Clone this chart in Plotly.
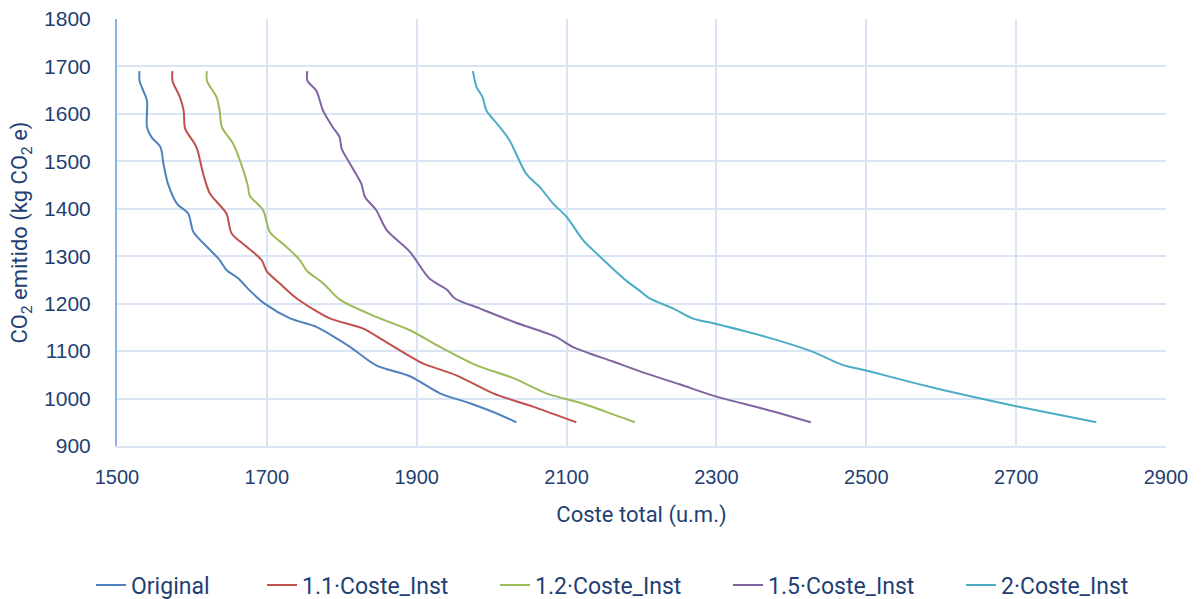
import plotly.graph_objects as go

# Total cost (u.m.) vs CO2 emitted (kg CO2 e) for each installation-cost scenario
original_cost = [1530, 1530, 1535, 1540, 1540, 1546, 1558, 1562, 1568, 1580, 1595, 1602, 1620,
                 1637, 1646, 1662, 1677, 1697, 1731, 1766, 1793, 1811, 1846, 1891, 1931, 1971,
                 2006, 2033]
original_co2 = [1690, 1670, 1649, 1628, 1572, 1551, 1530, 1495, 1453, 1411, 1390, 1351, 1320,
                1292, 1271, 1253, 1228, 1200, 1169, 1151, 1127, 1109, 1070, 1047, 1011, 990,
                969, 950]

c11_cost = [1574, 1574, 1584, 1589, 1591, 1606, 1615, 1624, 1646, 1653, 1673, 1693, 1700, 1717,
            1740, 1784, 1828, 1855, 1891, 1908, 1953, 2002, 2055, 2113]
c11_co2 = [1690, 1670, 1635, 1607, 1569, 1530, 1474, 1432, 1390, 1348, 1320, 1292, 1268, 1243,
           1211, 1169, 1148, 1123, 1089, 1074, 1049, 1011, 983, 950]

c12_cost = [1620, 1620, 1633, 1637, 1640, 1655, 1664, 1675, 1677, 1695, 1704, 1726, 1744, 1753,
            1775, 1797, 1846, 1891, 1931, 1980, 2029, 2073, 2120, 2153, 2191]
c12_co2 = [1690, 1670, 1635, 1607, 1572, 1537, 1502, 1446, 1428, 1397, 1351, 1320, 1292, 1270,
           1243, 1209, 1172, 1144, 1109, 1070, 1043, 1011, 990, 972, 950]

c15_cost = [1754, 1754, 1766, 1775, 1788, 1797, 1800, 1811, 1826, 1831, 1846, 1860, 1891, 1917,
            1940, 1951, 1984, 2029, 2086, 2108, 2162, 2206, 2251, 2300, 2366, 2426]
c15_co2 = [1690, 1670, 1649, 1607, 1572, 1551, 1526, 1495, 1453, 1425, 1397, 1355, 1309, 1253,
           1230, 1211, 1190, 1162, 1130, 1109, 1078, 1053, 1030, 1004, 977, 950]

c2_cost = [1975, 1980, 1988, 1993, 2011, 2024, 2046, 2064, 2082, 2100, 2122, 2144, 2180, 2197,
           2211, 2242, 2268, 2300, 2366, 2428, 2468, 2500, 2566, 2633, 2700, 2807]
c2_co2 = [1690, 1656, 1635, 1607, 1572, 1544, 1474, 1446, 1411, 1383, 1334, 1300, 1248, 1228,
          1211, 1190, 1169, 1157, 1130, 1099, 1071, 1059, 1032, 1007, 984, 950]

# legend entry widths (px) keep the legend items evenly spread on one row
series = [
    ("Original", original_cost, original_co2, "#4F81BD", 126),
    ("1.1·Coste_Inst", c11_cost, c11_co2, "#C0504D", 188),
    ("1.2·Coste_Inst", c12_cost, c12_co2, "#9BBB59", 188),
    ("1.5·Coste_Inst", c15_cost, c15_co2, "#8064A2", 188),
    ("2·Coste_Inst", c2_cost, c2_co2, "#4BACC6", 126),
]

TEXT = "#1F3F73"
GRID = "#D9E4F4"
LABEL_FONT = "Roboto"
TICK_FONT = "Liberation Sans"

fig = go.Figure()
for name, xs, ys, color, entry_w in series:
    fig.add_trace(go.Scatter(
        x=xs, y=ys, name=name, mode="lines", legendwidth=entry_w,
        line=dict(color=color, width=2, shape="spline", smoothing=0.8),
    ))

fig.update_layout(
    width=1201, height=599,
    margin=dict(l=117, r=35, t=19, b=153),
    paper_bgcolor="white", plot_bgcolor="white",
    font=dict(family=TICK_FONT, color=TEXT),
    showlegend=True,
    legend=dict(
        orientation="h", xref="container", x=91 / 1201, xanchor="left",
        yref="container", y=1 - 585 / 599, yanchor="middle",
        font=dict(family=LABEL_FONT, size=23, color=TEXT),
        itemwidth=30, tracegroupgap=0,
    ),
)

fig.update_xaxes(
    range=[1500, 2900], tickvals=[1500, 1700, 1900, 2100, 2300, 2500, 2700, 2900],
    showgrid=True, gridcolor=GRID, gridwidth=2,
    showline=True, linecolor=GRID, linewidth=2,
    zeroline=False, ticks="", ticklabelstandoff=12, automargin=False,
    tickfont=dict(family=TICK_FONT, size=20, color=TEXT),
    title=dict(text="Coste total (u.m.)", standoff=20,
               font=dict(family=LABEL_FONT, size=22, color=TEXT)),
)
fig.update_yaxes(
    range=[900, 1800], dtick=100,
    showgrid=True, gridcolor=GRID, gridwidth=2,
    showline=True, linecolor="#8DB3E2", linewidth=2,
    zeroline=False, ticks="", ticklabelstandoff=20, automargin=False,
    tickfont=dict(family=TICK_FONT, size=21, color=TEXT),
    title=dict(text="CO<sub>2</sub> emitido (kg CO<sub>2</sub> e)", standoff=10,
               font=dict(family=LABEL_FONT, size=22, color=TEXT)),
)

fig.write_html("out.html")
